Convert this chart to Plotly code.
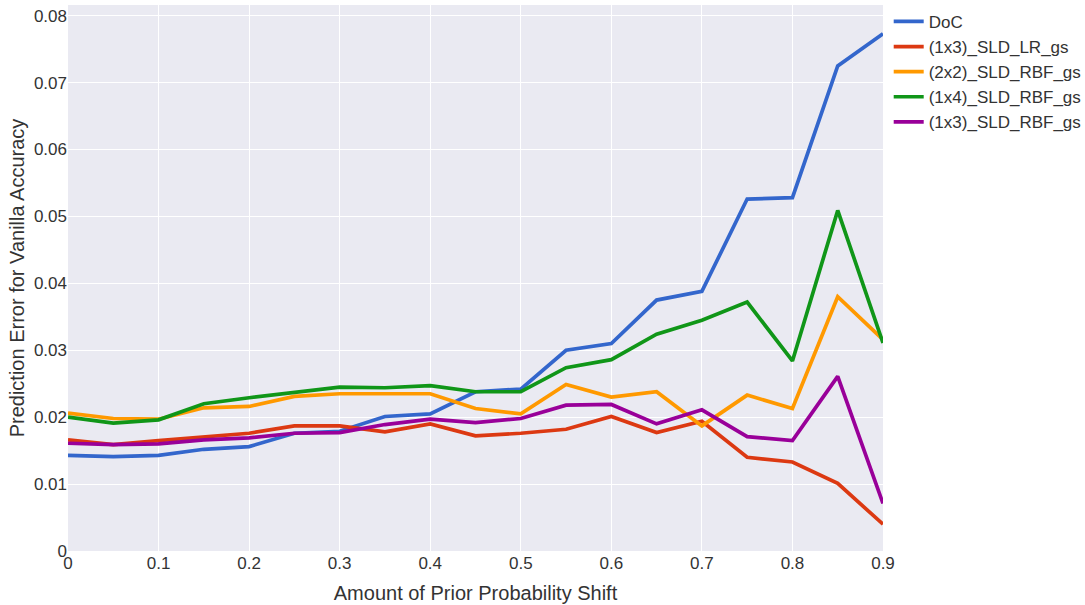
import plotly.graph_objects as go

# Prior probability shift amounts (x axis)
shift = [0.0, 0.05, 0.1, 0.15, 0.2, 0.25, 0.3, 0.35, 0.4, 0.45,
         0.5, 0.55, 0.6, 0.65, 0.7, 0.75, 0.8, 0.85, 0.9]

# Prediction error for vanilla accuracy, per method
doc = [0.0143, 0.0141, 0.0143, 0.0152, 0.0156, 0.0176, 0.0179, 0.0201, 0.0205, 0.0238,
       0.0242, 0.0300, 0.0310, 0.0375, 0.0388, 0.0526, 0.0528, 0.0725, 0.0773]
sld_lr_1x3 = [0.0166, 0.0159, 0.0165, 0.0171, 0.0176, 0.0187, 0.0187, 0.0178, 0.0190, 0.0172,
              0.0176, 0.0182, 0.0201, 0.0177, 0.0194, 0.0140, 0.0133, 0.0101, 0.0040]
sld_rbf_2x2 = [0.0206, 0.0198, 0.0197, 0.0214, 0.0216, 0.0231, 0.0235, 0.0235, 0.0235, 0.0213,
               0.0205, 0.0249, 0.0230, 0.0238, 0.0187, 0.0233, 0.0213, 0.0380, 0.0316]
sld_rbf_1x4 = [0.0200, 0.0191, 0.0196, 0.0220, 0.0229, 0.0237, 0.0245, 0.0244, 0.0247, 0.0238,
               0.0238, 0.0274, 0.0286, 0.0324, 0.0345, 0.0372, 0.0284, 0.0509, 0.0311]
sld_rbf_1x3 = [0.0161, 0.0159, 0.0160, 0.0166, 0.0169, 0.0176, 0.0177, 0.0189, 0.0197, 0.0192,
               0.0198, 0.0218, 0.0219, 0.0190, 0.0211, 0.0171, 0.0165, 0.0261, 0.0071]

series_names = ["DoC", "(1x3)_SLD_LR_gs", "(2x2)_SLD_RBF_gs", "(1x4)_SLD_RBF_gs", "(1x3)_SLD_RBF_gs"]
series_values = [doc, sld_lr_1x3, sld_rbf_2x2, sld_rbf_1x4, sld_rbf_1x3]
colors = ["#3366CC", "#DC3912", "#FF9900", "#109618", "#990099"]

fig = go.Figure()
for name, vals, col in zip(series_names, series_values, colors):
    fig.add_trace(go.Scatter(x=shift, y=vals, mode="lines", name=name,
                             line=dict(color=col, width=3.7)))

font_family = "Liberation Sans, Arial, sans-serif"
fig.update_layout(
    width=1085, height=605,
    margin=dict(l=68, r=202, t=5, b=54, autoexpand=False),
    paper_bgcolor="white",
    plot_bgcolor="#EAEAF2",
    font=dict(family=font_family, size=17, color="#333333"),
    legend=dict(x=1.007, y=1.002, xanchor="left", yanchor="top",
                font=dict(size=17), bgcolor="rgba(0,0,0,0)", tracegroupgap=0),
    xaxis=dict(
        title=dict(text="Amount of Prior Probability Shift", font=dict(size=20), standoff=13),
        range=[0, 0.9], tickmode="linear", tick0=0, dtick=0.1,
        showgrid=True, gridcolor="white", gridwidth=1,
        zeroline=False, showline=False, ticks="",
        tickfont=dict(size=17),
    ),
    yaxis=dict(
        title=dict(text="Prediction Error for Vanilla Accuracy", font=dict(size=20), standoff=3),
        range=[0, 0.0816], tickmode="linear", tick0=0, dtick=0.01,
        showgrid=True, gridcolor="white", gridwidth=1,
        zeroline=False, showline=False, ticks="",
        tickfont=dict(size=17),
    ),
)

fig.write_html("out.html")
